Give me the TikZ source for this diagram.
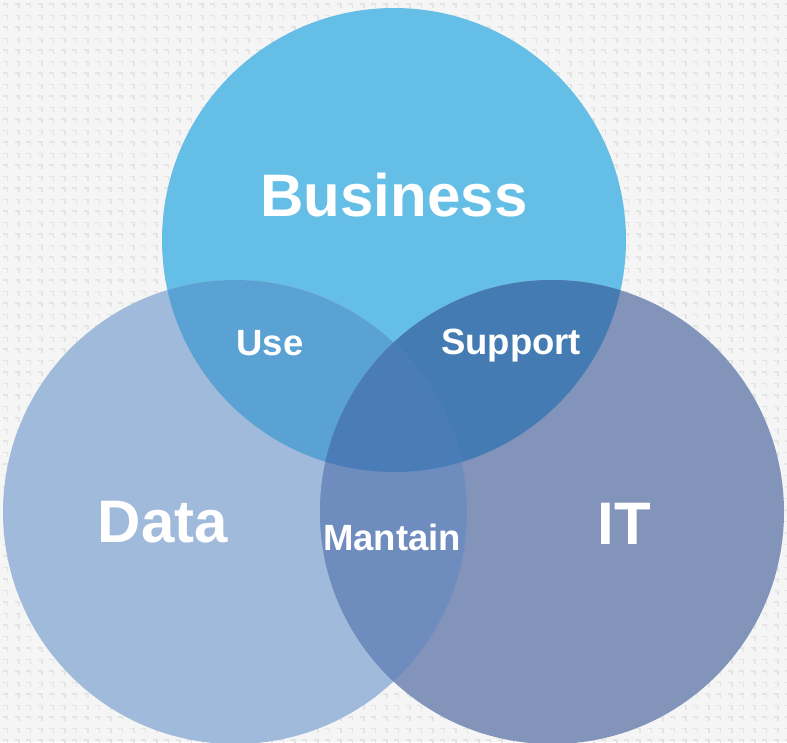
\documentclass[tikz,border=0pt]{standalone}
\usepackage{fontspec}
\setmainfont{Liberation Sans}
\definecolor{bgcol}{RGB}{245,245,245}
\definecolor{dotcol}{RGB}{228,228,228}
\definecolor{buscol}{RGB}{101,190,230}
\definecolor{datcol}{RGB}{160,186,219}
\definecolor{itcol}{RGB}{131,148,186}
\definecolor{usecol}{RGB}{90,162,211}
\definecolor{supcol}{RGB}{67,123,178}
\definecolor{mancol}{RGB}{110,140,190}
\definecolor{midcol}{RGB}{74,125,183}

\begin{document}
\begin{tikzpicture}[x=1pt,y=-1pt,
    bigtext/.style={text=white,font=\bfseries\fontsize{60}{60}\selectfont},
    smalltext/.style={text=white,font=\bfseries\fontsize{36.5}{36.5}\selectfont}]
    \useasboundingbox (0,0) rectangle (787,742);
    \fill[bgcol] (0,0) rectangle (787,742);
    %dots
    \foreach \i in {0,...,68}
        \foreach \j in {0,...,64}
            \draw[dotcol,line width=1.5pt] (\i*11.5+3,\j*11.5+4) -- ++(4.5,0) -- ++(0,4);

    \coordinate (bus) at (394,240);
    \coordinate (dat) at (235,512);
    \coordinate (itc) at (552,512);

    \fill[buscol] (bus) circle (232pt);
    \fill[datcol] (dat) circle (232pt);
    \fill[itcol] (itc) circle (232pt);
    %overlaps
    \begin{scope}
        \clip (bus) circle (232pt);
        \fill[usecol] (dat) circle (232pt);
        \fill[supcol] (itc) circle (232pt);
    \end{scope}
    \begin{scope}
        \clip (dat) circle (232pt);
        \fill[mancol] (itc) circle (232pt);
        \clip (bus) circle (232pt);
        \fill[midcol] (itc) circle (232pt);
    \end{scope}

    \node[bigtext] (business) at (394,195) {Business};
    \node[bigtext] (data) at (163,522) {Data};
    \node[bigtext] (it) at (624,524) {IT};
    %level 2
    \node[smalltext] (use) at (270,343) {Use};
    \node[smalltext] (support) at (511,346) {Support};
    \node[smalltext] (mantain) at (392,537) {Mantain};
\end{tikzpicture}
\end{document}
